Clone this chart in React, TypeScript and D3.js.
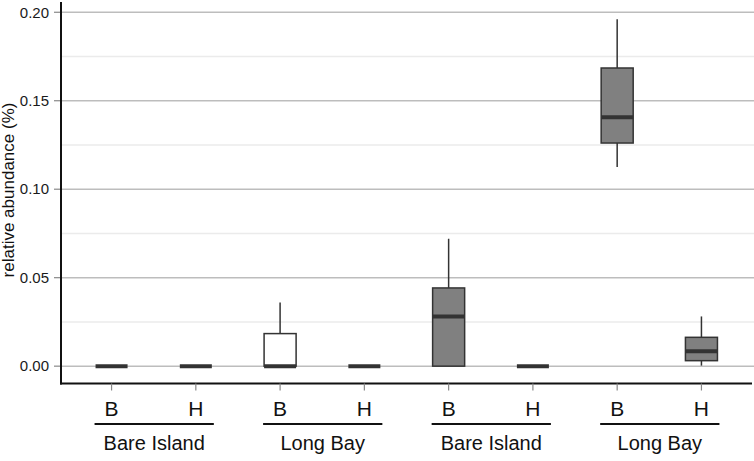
import React from "react";
import * as d3 from "d3";

const categories = ["B", "H", "B", "H", "B", "H", "B", "H"];
const groupLabels = ["Bare Island", "Long Bay", "Bare Island", "Long Bay"];
const groupFill = ["white", "white", "#808080", "#808080"];
const whiskerLo = [0, 0, 0, 0, 0, 0, 0.1125, 0.0003];
const q1 = [0, 0, 0, 0, 0, 0, 0.1261, 0.0031];
const medians = [0, 0, 0, 0, 0.0281, 0, 0.1406, 0.0084];
const q3 = [0, 0, 0.0184, 0, 0.0442, 0, 0.1685, 0.0163];
const whiskerHi = [0, 0, 0.036, 0, 0.072, 0, 0.196, 0.0281];
const majorTicks = [0, 0.05, 0.1, 0.15, 0.2];
const minorTicks = [0.025, 0.075, 0.125, 0.175];

const W = 754;
const H = 461;
const left = 61;
const right = 752;
const top = 2;
const bottom = 383.5;
const font = "'Liberation Sans', Arial, Helvetica, sans-serif";

export default function App() {
  const idx = categories.map((_, i) => i);
  const x = d3.scaleLinear().domain([-0.6, 7.6]).range([left, right]);
  const y = d3.scaleLinear().domain([-0.0098, 0.2058]).range([bottom, top]);
  const band = x(1) - x(0);
  const bw = band * 0.38;
  const fmt = d3.format(".2f");

  return (
    <svg width={W} height={H} style={{ position: "fixed", left: 0, top: 0, background: "white" }}>
      <rect x={0} y={0} width={W} height={H} fill="white" />
      {minorTicks.map((t) => (
        <line key={"mi" + t} x1={left} x2={W} y1={y(t)} y2={y(t)} stroke="#ebebeb" strokeWidth={1.5} />
      ))}
      {majorTicks.map((t) => (
        <line key={"ma" + t} x1={left} x2={W} y1={y(t)} y2={y(t)} stroke="#bdbdbd" strokeWidth={1.5} />
      ))}
      {majorTicks.map((t) => (
        <g key={"yt" + t}>
          <line x1={left - 7} x2={left} y1={y(t)} y2={y(t)} stroke="#888" strokeWidth={1.2} />
          <text x={left - 12} y={y(t)} dy="0.35em" textAnchor="end" fontFamily={font} fontSize={15} fill="#1a1a1a">
            {fmt(t)}
          </text>
        </g>
      ))}
      {idx.map((i) => {
        const cx = x(i);
        const g = Math.floor(i / 2);
        const isZero = q3[i] === q1[i];
        return (
          <g key={"b" + i}>
            {whiskerHi[i] > q3[i] && (
              <line x1={cx} x2={cx} y1={y(q3[i])} y2={y(whiskerHi[i])} stroke="#333" strokeWidth={1.5} />
            )}
            {whiskerLo[i] < q1[i] && (
              <line x1={cx} x2={cx} y1={y(q1[i])} y2={y(whiskerLo[i])} stroke="#333" strokeWidth={1.5} />
            )}
            {!isZero && (
              <rect
                x={cx - bw / 2}
                y={y(q3[i])}
                width={bw}
                height={y(q1[i]) - y(q3[i])}
                fill={groupFill[g]}
                stroke="#333"
                strokeWidth={1.5}
              />
            )}
            <line x1={cx - bw / 2} x2={cx + bw / 2} y1={y(medians[i])} y2={y(medians[i])} stroke="#333" strokeWidth={4} />
          </g>
        );
      })}
      <line x1={left} x2={left} y1={top} y2={bottom + 1} stroke="#111" strokeWidth={2} />
      <line x1={left - 1} x2={right} y1={bottom} y2={bottom} stroke="#111" strokeWidth={2} />
      {idx.map((i) => (
        <g key={"xt" + i}>
          <line x1={x(i)} x2={x(i)} y1={bottom} y2={bottom + 7} stroke="#888" strokeWidth={1.2} />
          <text x={x(i)} y={416} textAnchor="middle" fontFamily={font} fontSize={21} fill="#111">
            {categories[i]}
          </text>
        </g>
      ))}
      {groupLabels.map((lab, g) => {
        const x0 = x(2 * g) - 17;
        const x1 = x(2 * g + 1) + 18;
        return (
          <g key={"gl" + g}>
            <line x1={x0} x2={x1} y1={424} y2={424} stroke="#111" strokeWidth={2} />
            <text x={(x0 + x1) / 2} y={450} textAnchor="middle" fontFamily={font} fontSize={20} fill="#111">
              {lab}
            </text>
          </g>
        );
      })}
      <text
        transform={`translate(14, ${190}) rotate(-90)`}
        textAnchor="middle"
        fontFamily={font}
        fontSize={17}
        fill="#111"
      >
        relative abundance (%)
      </text>
    </svg>
  );
}
